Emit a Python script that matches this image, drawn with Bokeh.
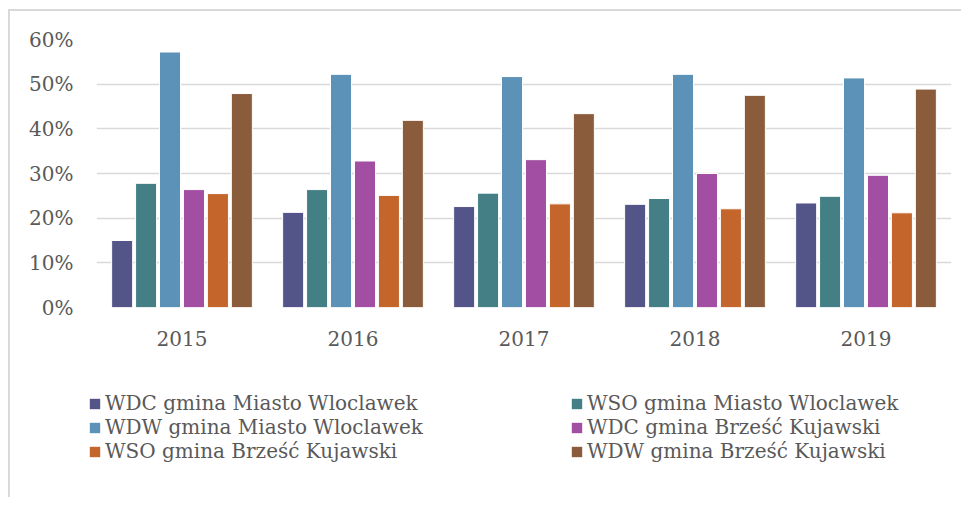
from bokeh.plotting import figure
from bokeh.layouts import column, row
from bokeh.models import FactorRange, Range1d, Legend, LegendItem, NumeralTickFormatter, ColumnDataSource
from bokeh.transform import dodge
from bokeh.embed import file_html
from bokeh.resources import INLINE

years = ["2015", "2016", "2017", "2018", "2019"]
series_names = [
    "WDC gmina Miasto Wloclawek",
    "WSO gmina Miasto Wloclawek",
    "WDW gmina Miasto Wloclawek",
    "WDC gmina Brześć Kujawski",
    "WSO gmina Brześć Kujawski",
    "WDW gmina Brześć Kujawski",
]
wdc_miasto = [15.0, 21.3, 22.6, 23.1, 23.4]
wso_miasto = [27.8, 26.4, 25.6, 24.4, 24.9]
wdw_miasto = [57.2, 52.2, 51.7, 52.2, 51.4]
wdc_brzesc = [26.4, 32.8, 33.1, 30.0, 29.6]
wso_brzesc = [25.5, 25.1, 23.2, 22.1, 21.2]
wdw_brzesc = [47.9, 41.9, 43.4, 47.5, 48.9]
series_values = [wdc_miasto, wso_miasto, wdw_miasto, wdc_brzesc, wso_brzesc, wdw_brzesc]
colors = ["#535488", "#437F84", "#5C92B8", "#A24EA2", "#C4652C", "#8A5C3B"]
y_ticks = [0, 0.1, 0.2, 0.3, 0.4, 0.5, 0.6]

FONT = "DejaVu Serif"
TXT = "#595959"
GRID = "#D9D9D9"

x_range = FactorRange(*years, range_padding=0)
p = figure(x_range=x_range, y_range=Range1d(0, 0.6),
           width=951, height=359, output_backend="svg", toolbar_location=None,
           min_border_left=86, min_border_right=10, min_border_top=28, min_border_bottom=63)
p.outline_line_color = None
p.xgrid.grid_line_color = None
p.ygrid.grid_line_color = GRID
p.ygrid.grid_line_width = 1.6
p.yaxis.ticker = y_ticks
p.yaxis.formatter = NumeralTickFormatter(format="0%")

for ax in (p.xaxis, p.yaxis):
    ax.axis_line_color = None
    ax.major_tick_line_color = None
    ax.minor_tick_line_color = None
    ax.major_label_text_font = FONT
    ax.major_label_text_font_size = "20px"
    ax.major_label_text_color = TXT
p.yaxis.major_label_standoff = 17
p.xaxis.major_label_standoff = 17

pitch = 0.14
bar_w = 0.123
sources = []
for i, (vals, col) in enumerate(zip(series_values, colors)):
    src = ColumnDataSource(dict(year=years, v=[x / 100 for x in vals]))
    sources.append(src)
    p.vbar(x=dodge("year", (i - 2.5) * pitch, range=x_range), top="v", width=bar_w,
           source=src, fill_color=col, line_color="white", line_width=1)

# legend panel (same series, their bars lie outside this panel's value range)
q = figure(width=951, height=127, output_backend="svg", toolbar_location=None,
           x_axis_type=None, y_axis_type=None, x_range=x_range, y_range=Range1d(2, 3),
           min_border=0)
q.outline_line_color = None
q.grid.grid_line_color = None
leg_renderers = []
for i, (src, col) in enumerate(zip(sources, colors)):
    leg_renderers.append(q.vbar(x=dodge("year", (i - 2.5) * pitch, range=x_range), top="v",
                                width=bar_w, source=src, fill_color=col, line_color=None))

def make_legend(idx, loc):
    lg = Legend(items=[LegendItem(label=series_names[i], renderers=[leg_renderers[i]]) for i in idx],
                location=loc, orientation="vertical")
    lg.border_line_color = None
    lg.background_fill_alpha = 0
    lg.padding = 0
    lg.margin = 0
    lg.spacing = 0
    lg.glyph_width = 13
    lg.glyph_height = 13
    lg.label_standoff = 4
    lg.label_height = 20
    lg.label_text_font = FONT
    lg.label_text_font_size = "20px"
    lg.label_text_color = TXT
    return lg

q.add_layout(make_legend([0, 2, 4], (78, 34)), "center")
q.add_layout(make_legend([1, 3, 5], (560, 34)), "center")

layout = column(p, row(q), spacing=0)
layout.styles = {"border-left": "2px solid #D9D9D9", "border-top": "2px solid #D9D9D9",
                 "margin-left": "8px", "margin-top": "9px"}

open("out.html", "w").write(file_html(layout, INLINE))
